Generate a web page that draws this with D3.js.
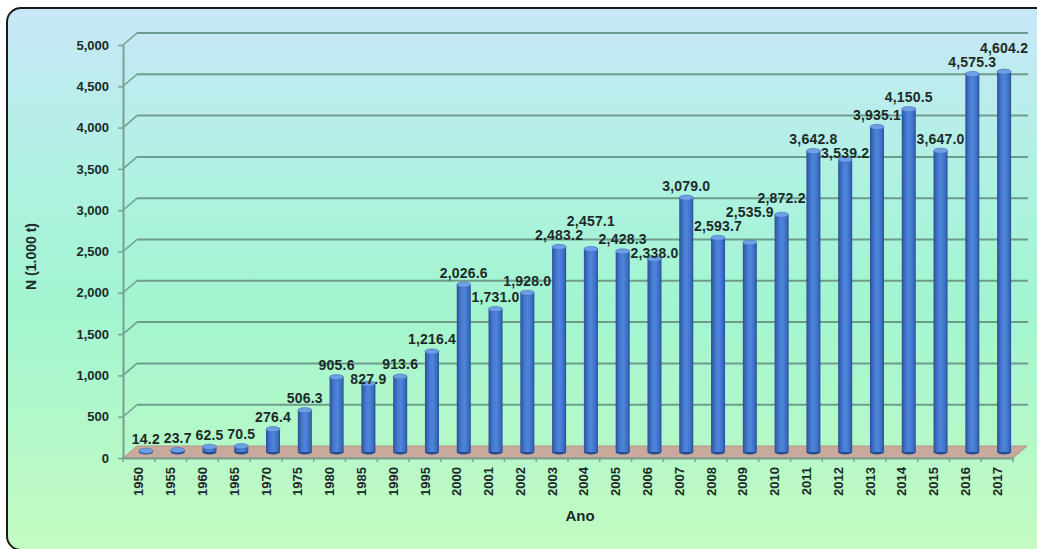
<!DOCTYPE html>
<html>
<head>
<meta charset="utf-8">
<script src="https://cdn.jsdelivr.net/npm/d3@7"></script>
<style>
  html, body { margin: 0; padding: 0; background: #ffffff; }
  svg { display: block; }
  text { font-family: "Liberation Sans", Arial, sans-serif; font-weight: bold; fill: #1c2a28; }
</style>
</head>
<body>
<svg id="chart" width="1037" height="549"></svg>
<script>
const categories = ['1950','1955','1960','1965','1970','1975','1980','1985','1990','1995','2000','2001','2002','2003','2004','2005','2006','2007','2008','2009','2010','2011','2012','2013','2014','2015','2016','2017'];
const values = [14.2,23.7,62.5,70.5,276.4,506.3,905.6,827.9,913.6,1216.4,2026.6,1731.0,1928.0,2483.2,2457.1,2428.3,2338.0,3079.0,2593.7,2535.9,2872.2,3642.8,3539.2,3935.1,4150.5,3647.0,4575.3,4604.2];
const yTicks = [0,500,1000,1500,2000,2500,3000,3500,4000,4500,5000];
const yTitle = 'N (1.000 t)';
const xTitle = 'Ano';

const svg = d3.select('#chart');
const defs = svg.append('defs');

const bg = defs.append('linearGradient').attr('id','bg').attr('x1',0).attr('y1',0).attr('x2',0).attr('y2',1);
[['0%','#c8e7f8'],['30%','#b0f1e3'],['55%','#a2f5d0'],['100%','#c4fbc2']].forEach(s=>bg.append('stop').attr('offset',s[0]).attr('stop-color',s[1]));
const bg2 = defs.append('linearGradient').attr('id','bar').attr('x1',0).attr('y1',0).attr('x2',1).attr('y2',0);
[['0%','#2a4f98'],['30%','#4679cf'],['55%','#4d86da'],['85%','#3a6cc0'],['100%','#274b92']].forEach(s=>bg2.append('stop').attr('offset',s[0]).attr('stop-color',s[1]));

svg.append('rect').attr('x',7).attr('y',8).attr('width',1045).attr('height',542).attr('rx',14)
  .attr('fill','url(#bg)').attr('stroke','#1a1a1a').attr('stroke-width',2);

const left = 123, right = 1013, dx = 14, dy = -12;
const x = d3.scaleBand().domain(categories).range([left, right]).padding(0);
const y = d3.scaleLinear().domain([0, 5000]).range([458, 45]);

const gridColor = '#6e9c8c';
const grid = svg.append('g');
yTicks.filter(t => t > 0).forEach(t => {
  grid.append('line').attr('x1', left + dx).attr('x2', right + dx + 1).attr('y1', y(t) + dy).attr('y2', y(t) + dy)
    .attr('stroke', gridColor).attr('stroke-width', 2);
  grid.append('line').attr('x1', left).attr('x2', left + dx).attr('y1', y(t)).attr('y2', y(t) + dy)
    .attr('stroke', gridColor).attr('stroke-width', 1.5);
});

svg.append('polygon')
  .attr('points', [[left, y(0)], [right, y(0)], [right + dx, y(0) + dy], [left + dx, y(0) + dy]].map(p => p.join(',')).join(' '))
  .attr('fill', '#c9a99c').attr('stroke', '#b09488').attr('stroke-width', 1);

const yAxis = svg.append('g').attr('transform', `translate(${left},0)`)
  .call(d3.axisLeft(y).tickValues(yTicks).tickFormat(d3.format(',')).tickSize(5).tickSizeOuter(0).tickPadding(9));
yAxis.select('.domain').attr('stroke', '#7b9e94').attr('stroke-width', 2);
yAxis.selectAll('.tick line').attr('stroke', '#7b9e94').attr('stroke-width', 1.5);
yAxis.selectAll('.tick text').style('font-size', '13px').style('font-family', '"Liberation Sans", Arial, sans-serif').style('font-weight', 'bold').attr('fill', '#1c2a28');

const xAxis = svg.append('g').attr('transform', `translate(0,${y(0)})`)
  .call(d3.axisBottom(x).tickSize(0).tickSizeOuter(0));
xAxis.select('.domain').attr('stroke', '#7b9e94').attr('stroke-width', 2);
xAxis.selectAll('.tick text')
  .style('font-size', '13px').style('font-family', '"Liberation Sans", Arial, sans-serif').style('font-weight', 'bold').attr('fill', '#1c2a28')
  .attr('text-anchor', 'end').attr('dy', '0.35em')
  .attr('transform', 'translate(0,9) rotate(-90)').attr('x', 0).attr('y', 0);
categories.concat([null]).forEach((c) => {
  const xx = c ? x(c) : right;
  xAxis.append('line').attr('x1', xx).attr('x2', xx).attr('y1', 0).attr('y2', 4).attr('stroke', '#7b9e94').attr('stroke-width', 1.5);
});

const bw = 14, rx = bw / 2, ry = 2.6;
const bars = svg.append('g');
categories.forEach((c, i) => {
  const cx = x(c) + x.bandwidth() / 2 + dx / 2;
  const base = y(0) + dy / 2, top = y(values[i]) + dy / 2;
  const g = bars.append('g');
  g.append('ellipse').attr('cx', cx).attr('cy', base).attr('rx', rx).attr('ry', ry).attr('fill', '#274b92');
  g.append('rect').attr('x', cx - rx).attr('y', top).attr('width', bw).attr('height', Math.max(0, base - top)).attr('fill', 'url(#bar)');
  g.append('ellipse').attr('cx', cx).attr('cy', top).attr('rx', rx).attr('ry', ry).attr('fill', '#6e9ee4').attr('stroke', '#3d6bb8').attr('stroke-width', 0.6);
});

const fmt = d3.format(',.1f');
const labels = svg.append('g');
const lh = 14;
let prev = null;
categories.forEach((c, i) => {
  const cx = x(c) + x.bandwidth() / 2 + dx / 2;
  const barTop = y(values[i]) + dy / 2;
  const t = labels.append('text').attr('x', cx).attr('text-anchor', 'middle').attr('dy', '0.35em')
    .style('font-size', '14px').style('letter-spacing', '0.2px').text(fmt(values[i]));
  const w = t.node().getComputedTextLength();
  let cy = barTop - 12;
  if (prev && Math.abs(cx - prev.cx) < (w + prev.w) / 2 && Math.abs(cy - prev.cy) < lh) {
    if (cy > prev.cy && prev.cy + lh <= barTop - 4) cy = prev.cy + lh;
    else cy = prev.cy - lh;
  }
  t.attr('y', cy);
  prev = { cx, cy, w };
});

svg.append('text').attr('transform', `translate(36,${(y(0) + y(5000)) / 2 + 5}) rotate(-90)`)
  .attr('text-anchor', 'middle').style('font-size', '14px').text(yTitle);
svg.append('text').attr('x', (left + right) / 2 + 12).attr('y', 521).attr('text-anchor', 'middle')
  .style('font-size', '15px').text(xTitle);
</script>
</body>
</html>
